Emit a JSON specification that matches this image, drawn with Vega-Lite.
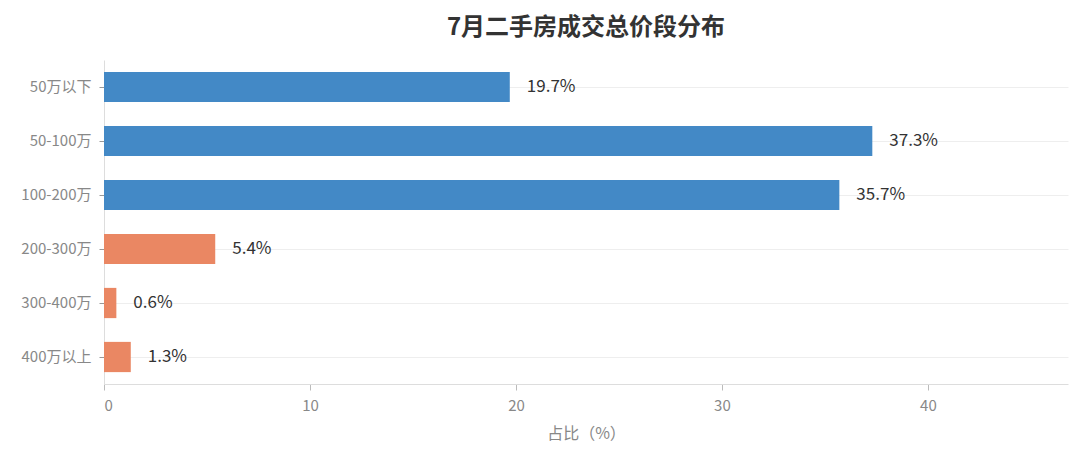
{
  "$schema": "https://vega.github.io/schema/vega-lite/v6.json",
  "width": 964,
  "height": 324,
  "autosize": {"type": "none"},
  "padding": {"left": 104, "top": 60, "right": 12, "bottom": 74},
  "background": "white",
  "config": {
    "font": "Noto Sans CJK SC",
    "view": {"stroke": null}
  },
  "title": {
    "text": "7月二手房成交总价段分布",
    "fontSize": 24,
    "fontWeight": "bold",
    "color": "#333333",
    "anchor": "middle",
    "offset": 20
  },
  "data": {
    "values": [
      {"segment": "50万以下", "share": 19.7, "label": "19.7%", "group": "low"},
      {"segment": "50-100万", "share": 37.3, "label": "37.3%", "group": "low"},
      {"segment": "100-200万", "share": 35.7, "label": "35.7%", "group": "low"},
      {"segment": "200-300万", "share": 5.4, "label": "5.4%", "group": "high"},
      {"segment": "300-400万", "share": 0.6, "label": "0.6%", "group": "high"},
      {"segment": "400万以上", "share": 1.3, "label": "1.3%", "group": "high"}
    ]
  },
  "encoding": {
    "y": {
      "field": "segment",
      "type": "nominal",
      "sort": null,
      "title": null,
      "scale": {"paddingInner": 0.44, "paddingOuter": 0.22},
      "axis": {
        "bandPosition": 0.5,
        "grid": true,
        "gridColor": "#eeeeee",
        "domainColor": "#dddddd",
        "tickColor": "#999999",
        "tickSize": 5,
        "labelPadding": 8,
        "labelFontSize": 15,
        "labelColor": "#888888"
      }
    },
    "x": {
      "field": "share",
      "type": "quantitative",
      "title": "占比（%）",
      "scale": {"domain": [0, 46.8], "nice": false},
      "axis": {
        "grid": false,
        "values": [0, 10, 20, 30, 40],
        "domainColor": "#dddddd",
        "tickColor": "#bbbbbb",
        "tickSize": 6,
        "labelPadding": 8,
        "labelFontSize": 15,
        "labelColor": "#888888",
        "titleFontSize": 16,
        "titleFontWeight": "normal",
        "titleColor": "#888888",
        "titlePadding": 12
      }
    }
  },
  "layer": [
    {
      "mark": {"type": "bar"},
      "encoding": {
        "color": {
          "field": "group",
          "type": "nominal",
          "legend": null,
          "scale": {"domain": ["low", "high"], "range": ["#4389c6", "#ea8763"]}
        }
      }
    },
    {
      "mark": {"type": "text", "align": "left", "dx": 17, "fontSize": 17, "color": "#333333"},
      "encoding": {
        "text": {"field": "label", "type": "nominal"}
      }
    }
  ]
}
